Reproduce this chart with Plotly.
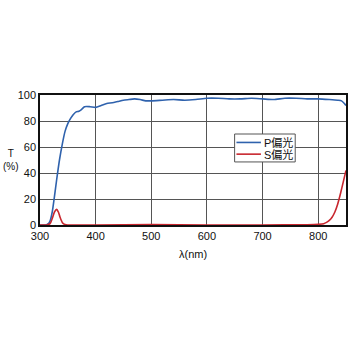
import plotly.graph_objects as go

# Transmittance spectra (wavelength in nm, T in %)
wl_p = [300, 310, 315, 318, 322, 326, 330, 335, 340, 345, 350, 355, 360, 365, 370, 375, 380, 390, 400,
        410, 420, 430, 440, 450, 460, 470, 480, 490, 500, 520, 540, 560, 580, 600, 620, 640, 660, 680,
        700, 720, 740, 760, 780, 800, 820, 835, 842, 848, 850]
t_p = [0, 0, 1, 3, 10, 22, 35, 50, 62, 72, 78, 82, 85, 87, 87.5, 89, 91, 91, 90.5,
       92, 93.5, 94, 95, 96, 96.5, 97, 96.5, 95.5, 95.5, 96, 96.5, 96, 96.5, 97.5, 97.5, 97, 97, 97.5,
       97, 96.5, 97.5, 97.5, 97, 97, 96.5, 96, 95.5, 93, 92]

wl_s = [300, 312, 318, 322, 326, 330, 333, 336, 340, 345, 350, 400, 500, 600, 700, 780, 800, 810, 815,
        820, 825, 830, 835, 840, 845, 850]
t_s = [0, 0, 1, 5, 10, 12, 10, 6, 2, 0.3, 0, 0, 0.3, 0, 0, 0.2, 0.5, 1, 2,
       3.5, 6, 10, 16, 24, 33, 42]

series_names = ["P偏光", "S偏光"]
series_colors = ["#2f62ad", "#c8262e"]

x_ticks = [300, 400, 500, 600, 700, 800]
y_ticks = [0, 20, 40, 60, 80, 100]

font = "Liberation Sans, Arial, Noto Sans CJK JP, sans-serif"

fig = go.Figure()
for name, color, xs, ys in zip(series_names, series_colors, [wl_p, wl_s], [t_p, t_s]):
    fig.add_trace(go.Scatter(x=xs, y=ys, mode="lines", name=name, showlegend=False,
                             line=dict(color=color, width=1.6, shape="spline", smoothing=0.6)))

# compact boxed legend inside the plot area
shapes = [dict(type="rect", xref="paper", yref="paper", x0=0.636, x1=0.834, y0=0.485, y1=0.70,
               fillcolor="white", line=dict(color="#555", width=1), layer="above")]
annotations = []
for i, (name, color) in enumerate(zip(series_names, series_colors)):
    yy = 0.635 - i * 0.09
    shapes.append(dict(type="line", xref="paper", yref="paper", x0=0.642, x1=0.722, y0=yy, y1=yy,
                       line=dict(color=color, width=1.6), layer="above"))
    annotations.append(dict(text=name, x=0.724, y=yy, xref="paper", yref="paper", showarrow=False,
                            xanchor="left", yanchor="middle", font=dict(size=11, family=font, color="#111")))

annotations.append(dict(text="λ(nm)", x=0.5, y=-0.16, xref="paper", yref="paper", showarrow=False,
                        xanchor="center", yanchor="top", font=dict(size=11, family=font, color="#111")))
annotations.append(dict(text="T<br>(%)", x=-0.095, y=0.5, xref="paper", yref="paper", showarrow=False,
                        xanchor="center", yanchor="middle", font=dict(size=10, family=font, color="#111")))

fig.update_layout(
    width=350, height=350,
    margin=dict(l=40, r=2, t=95, b=125),
    paper_bgcolor="white", plot_bgcolor="white",
    font=dict(family=font, size=11, color="#111"),
    showlegend=False,
    shapes=shapes,
    annotations=annotations,
    xaxis=dict(range=[300, 850], tickvals=x_ticks, showgrid=True, gridcolor="#555", gridwidth=1,
               showline=True, linecolor="#111", linewidth=1.5, mirror=True, ticks="",
               zeroline=False, tickfont=dict(size=11)),
    yaxis=dict(range=[0, 100], tickvals=y_ticks, showgrid=True, gridcolor="#555", gridwidth=1,
               showline=True, linecolor="#111", linewidth=1.5, mirror=True, ticks="",
               zeroline=False, tickfont=dict(size=11)),
)

fig.write_html("out.html")
